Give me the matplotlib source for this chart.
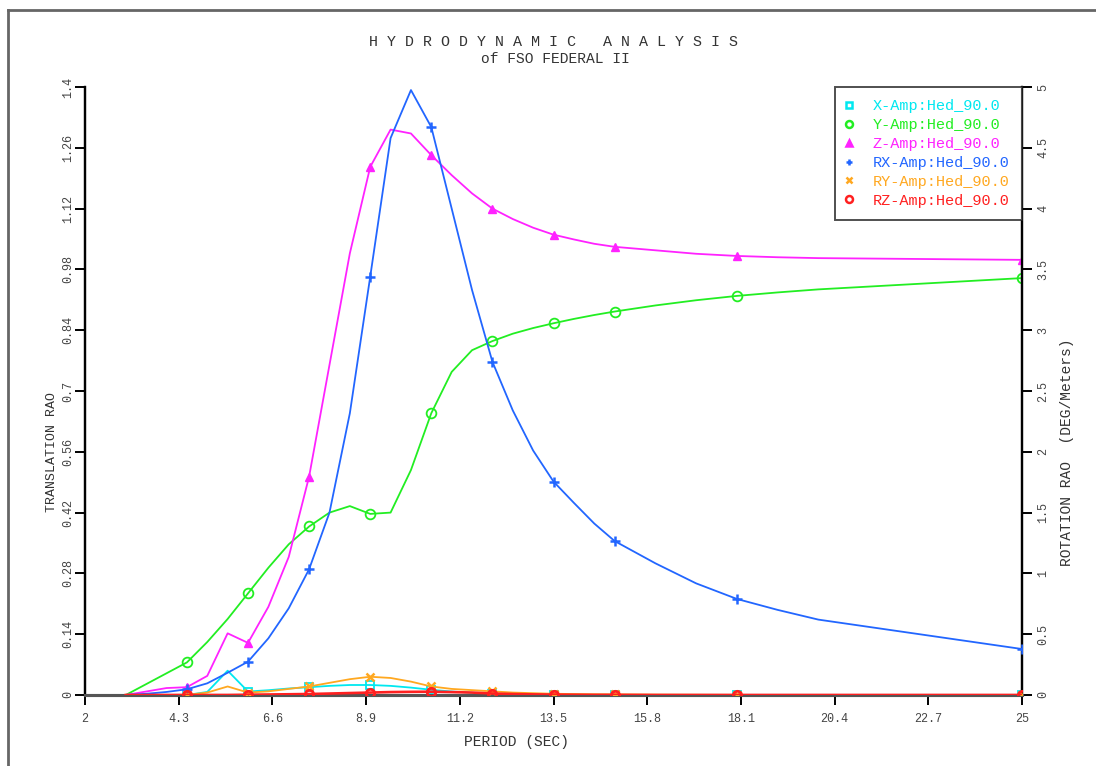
import matplotlib
matplotlib.use("Agg")
import matplotlib.pyplot as plt
from matplotlib.lines import Line2D

plt.rcParams['font.family'] = ['Liberation Mono', 'DejaVu Sans Mono']

# wave period (sec) and RAO values
period = [3.0, 3.5, 4.0, 4.5, 5.0, 5.5, 6.0, 6.5, 7.0, 7.5, 8.0, 8.5, 9.0, 9.5, 10.0,
          10.5, 11.0, 11.5, 12.0, 12.5, 13.0, 13.5, 14.0, 14.5, 15.0, 16.0, 17.0,
          18.0, 19.0, 20.0, 25.0]

# translation RAO (left axis)
x_amp = [0, 0, 0, 0, 0.007, 0.056, 0.008, 0.011, 0.015, 0.018, 0.021, 0.023, 0.023,
         0.021, 0.017, 0.012, 0.008, 0.005, 0.003, 0.002, 0.001, 0.001, 0.0005, 0.0003,
         0.0002, 0.0001, 0, 0, 0, 0, 0]
y_amp = [0, 0.025, 0.05, 0.075, 0.122, 0.175, 0.234, 0.293, 0.347, 0.388, 0.42, 0.435,
         0.417, 0.42, 0.518, 0.649, 0.744, 0.794, 0.815, 0.832, 0.845, 0.856, 0.866,
         0.875, 0.883, 0.897, 0.909, 0.919, 0.927, 0.934, 0.960]
z_amp = [0, 0.008, 0.016, 0.018, 0.044, 0.142, 0.12, 0.203, 0.318, 0.503, 0.76, 1.017,
         1.216, 1.302, 1.293, 1.243, 1.197, 1.155, 1.12, 1.096, 1.076, 1.06, 1.049,
         1.039, 1.032, 1.024, 1.016, 1.011, 1.008, 1.006, 1.002]

# rotation RAO (right axis)
rx_amp = [0, 0.01, 0.025, 0.047, 0.096, 0.183, 0.274, 0.466, 0.713, 1.034, 1.5, 2.317,
          3.44, 4.58, 4.975, 4.67, 4.0, 3.33, 2.74, 2.34, 2.01, 1.755, 1.58, 1.41,
          1.266, 1.083, 0.918, 0.79, 0.70, 0.62, 0.378]
ry_amp = [0, 0, 0, 0, 0.02, 0.07, 0.02, 0.03, 0.05, 0.07, 0.1, 0.13, 0.15, 0.14, 0.11,
          0.07, 0.05, 0.04, 0.03, 0.02, 0.015, 0.01, 0.008, 0.006, 0.005, 0.003,
          0.002, 0.001, 0, 0, 0]
rz_amp = [0, 0, 0, 0, 0, 0, 0.002, 0.004, 0.006, 0.008, 0.012, 0.016, 0.02, 0.024,
          0.026, 0.027, 0.024, 0.02, 0.012, 0.008, 0.005, 0.003, 0.002, 0.001, 0.001,
          0, 0, 0, 0, 0, 0]

x_ticks = [2, 4.3, 6.6, 8.9, 11.2, 13.5, 15.8, 18.1, 20.4, 22.7, 25]
left_ticks = [0, 0.14, 0.28, 0.42, 0.56, 0.7, 0.84, 0.98, 1.12, 1.26, 1.4]
right_ticks = [0, 0.5, 1, 1.5, 2, 2.5, 3, 3.5, 4, 4.5, 5]

c_x, c_y, c_z = '#00e8f0', '#22ee22', '#ff22ff'
c_rx, c_ry, c_rz = '#2266ff', '#ffa820', '#ff2020'

fig = plt.figure(figsize=(10.96, 7.66), dpi=100)
ax = fig.add_axes([0.0776, 0.0927, 0.8549, 0.7937])
ax2 = ax.twinx()

mk = (3, 3)
lw = 1.3
ax.plot(period, x_amp, color=c_x, lw=lw, marker='s', mfc='none', ms=6, mew=1.3, markevery=mk, zorder=3)
ax.plot(period, y_amp, color=c_y, lw=lw, marker='o', mfc='none', ms=7, mew=1.3, markevery=mk, zorder=3)
ax.plot(period, z_amp, color=c_z, lw=lw, marker='^', ms=6, markevery=mk, zorder=3)
ax2.plot(period, rx_amp, color=c_rx, lw=lw, marker='+', ms=7, mew=1.8, markevery=mk, zorder=3)
ax2.plot(period, ry_amp, color=c_ry, lw=lw, marker='x', ms=6, mew=1.8, markevery=mk, zorder=3)
ax2.plot(period, rz_amp, color=c_rz, lw=lw + 0.6, marker='o', mfc='none', ms=6, mew=2, markevery=mk, zorder=4)

ax.set_xlim(2, 25)
ax.set_ylim(0, 1.4)
ax2.set_ylim(0, 5)
ax.set_xticks(x_ticks)
ax.set_xticklabels([f'{t:g}' for t in x_ticks])
ax.set_yticks(left_ticks)
ax.set_yticklabels([f'{t:g}' for t in left_ticks], rotation=90, va='center')
ax2.set_yticks(right_ticks)
ax2.set_yticklabels([f'{t:g}' for t in right_ticks], rotation=90, va='center')

for a in (ax, ax2):
    a.spines['top'].set_visible(False)
    a.spines['left'].set_linewidth(1.6)
    a.spines['right'].set_linewidth(1.6)
    a.spines['bottom'].set_linewidth(2.2)
    a.spines['bottom'].set_color('#555555')
    a.tick_params(direction='out', length=7, width=1.4, labelsize=8.5, labelcolor='#444444', pad=3)
ax.tick_params(axis='x', pad=6)
ax.tick_params(axis='y', pad=1)
ax2.tick_params(axis='y', pad=4)

ax.set_xlabel('PERIOD (SEC)', fontsize=10.5, color='#333333')
ax.xaxis.set_label_coords(0.46, -0.065)
ax.set_ylabel('TRANSLATION RAO', fontsize=9.5, color='#333333')
ax.yaxis.set_label_coords(-0.029, 0.40)
ax2.set_ylabel('ROTATION RAO  (DEG/Meters)', fontsize=10.5, color='#333333')
ax2.yaxis.set_label_coords(1.041, 0.40)

fig.text(0.505, 0.945, 'H Y D R O D Y N A M I C   A N A L Y S I S',
         ha='center', va='center', fontsize=10.8, color='#333333')
fig.text(0.507, 0.923, 'of FSO FEDERAL II', ha='center', va='center', fontsize=10.5, color='#333333')

labels = ['X-Amp:Hed_90.0', 'Y-Amp:Hed_90.0', 'Z-Amp:Hed_90.0',
          'RX-Amp:Hed_90.0', 'RY-Amp:Hed_90.0', 'RZ-Amp:Hed_90.0']
colors = [c_x, c_y, c_z, c_rx, c_ry, c_rz]
markers = ['s', 'o', '^', '+', 'x', 'o']
handles = []
for c, m in zip(colors, markers):
    filled = m in ('^', '+', 'x')
    handles.append(Line2D([], [], ls='none', marker=m, color=c, ms=5, mew=1.8,
                          mfc=c if filled else 'none'))
leg = ax2.legend(handles, labels, loc='upper right', bbox_to_anchor=(1.0, 1.0),
                 borderaxespad=0, fancybox=False, frameon=True, fontsize=11,
                 handlelength=0.2, handletextpad=1.45, labelspacing=0.32,
                 borderpad=0.8)
leg.get_frame().set_edgecolor('#222222')
leg.get_frame().set_linewidth(1.4)
for t, c in zip(leg.get_texts(), colors):
    t.set_color(c)

# outer frame (left and top edges visible)
fig.add_artist(Line2D([0.0073, 0.0073], [0.0, 0.987], color='#666666', lw=2))
fig.add_artist(Line2D([0.0073, 1.0], [0.987, 0.987], color='#666666', lw=2))

fig.savefig('out.png', dpi=100)
